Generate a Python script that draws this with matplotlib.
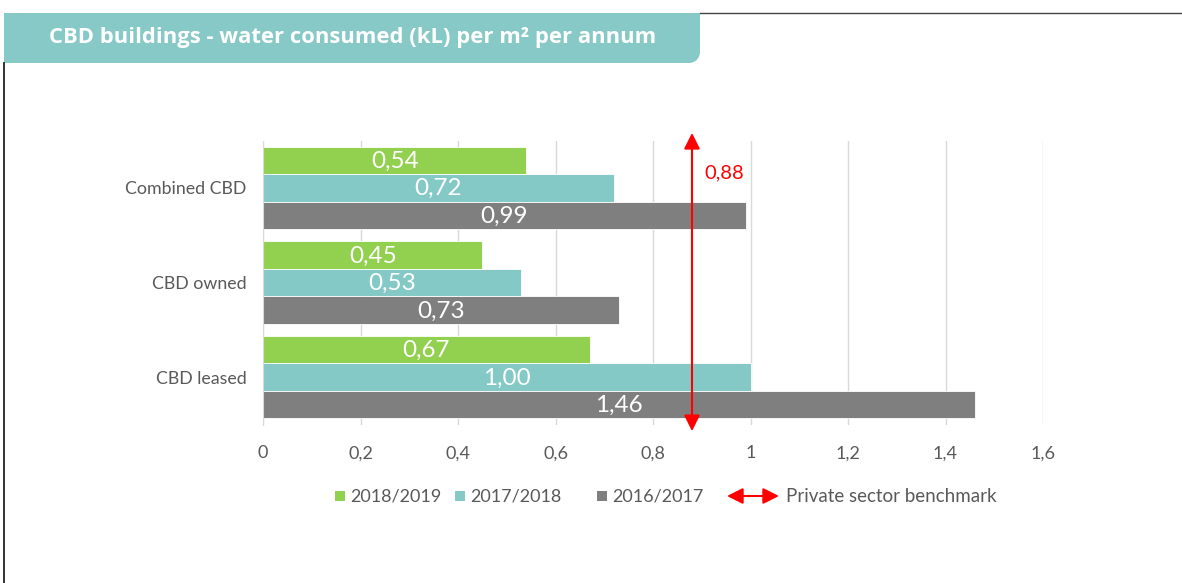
import numpy as np
import matplotlib
matplotlib.use('Agg')
import matplotlib.pyplot as plt
from matplotlib.patches import Polygon, Rectangle, FancyArrowPatch

# data
categories = ['CBD leased', 'CBD owned', 'Combined CBD']  # bottom to top
series_names = ['2018/2019', '2017/2018', '2016/2017']
v_1819 = [0.67, 0.45, 0.54]
v_1718 = [1.00, 0.53, 0.72]
v_1617 = [1.46, 0.73, 0.99]
benchmark = 0.88
benchmark_label = 'Private sector benchmark'
xticks = [0, 0.2, 0.4, 0.6, 0.8, 1.0, 1.2, 1.4, 1.6]

colors = ['#92D050', '#85C9C7', '#7F7F7F']
txt_grey = '#595959'
font = 'Lato'


def comma(v, fmt='{:.2f}'):
    return fmt.format(v).replace('.', ',')


W, H = 1182, 583
fig = plt.figure(figsize=(W / 100, H / 100), dpi=100)

# background layer in pixel coords (frame + title tab)
bg = fig.add_axes([0, 0, 1, 1], zorder=0)
bg.set_xlim(0, W)
bg.set_ylim(H, 0)
bg.axis('off')

r = 11
arc = [(700 - r + r * np.cos(t), 63 - r + r * np.sin(t)) for t in np.linspace(0, np.pi / 2, 12)]
tab = [(4, 13), (700, 13)] + arc + [(4, 63)]
bg.add_patch(Polygon(tab, closed=True, facecolor='#86C9C6', edgecolor='none'))
bg.plot([4, 4], [63, H], color='#222222', lw=1.3)
bg.plot([700, W], [13, 13], color='#444444', lw=1.0)
bg.text(353, 38, 'CBD buildings - water consumed (kL) per m² per annum',
        color='white', fontsize=15.8, fontweight='bold', family='Open Sans',
        ha='center', va='center')

# main chart
ax = fig.add_axes([263 / W, 1 - 424.5 / H, 780 / W, 284 / H], zorder=1)
ax.patch.set_alpha(0)
y = np.arange(len(categories))
bh = 0.29
offsets = [bh, 0, -bh]
for vals, off, c in zip([v_1819, v_1718, v_1617], offsets, colors):
    bars = ax.barh(y + off, vals, height=bh, color=c, edgecolor='white', linewidth=0.6, zorder=2)
    for b, v in zip(bars, vals):
        ax.text(v / 2, b.get_y() + b.get_height() / 2 - 0.01, comma(v), color='white',
                fontsize=17.5, family=font, ha='center', va='center', zorder=3)

ax.set_xlim(0, 1.6)
ax.set_ylim(-0.5, len(categories) - 0.5)
ax.set_xticks(xticks)
ax.set_xticklabels(['0' if t == 0 else comma(t, '{:g}') for t in xticks],
                   fontsize=13, color=txt_grey, family=font)
ax.set_yticks(y)
ax.set_yticklabels(categories, fontsize=12.8, color=txt_grey, family=font)
ax.tick_params(axis='y', length=0, pad=12)
ax.tick_params(axis='x', length=0, pad=15)
ax.grid(axis='x', color='#D9D9D9', lw=1, zorder=0)
for s in ['top', 'right', 'bottom']:
    ax.spines[s].set_visible(False)
ax.spines['left'].set_color('#D9D9D9')

# benchmark double arrow
ax.annotate('', xy=(benchmark, 2.58), xytext=(benchmark, -0.57),
            arrowprops=dict(arrowstyle='<|-|>,head_length=0.8,head_width=0.4',
                            color='red', lw=1.5, mutation_scale=12, shrinkA=0, shrinkB=0),
            annotation_clip=False, zorder=4)
ax.text(benchmark + 0.025, 2.158, comma(benchmark), color='red', fontsize=14.5,
        family=font, ha='left', va='center')

# legend (drawn in pixel coords)
ly = 496
items = [(335, series_names[0], colors[0]), (455, series_names[1], colors[1]),
         (597, series_names[2], colors[2])]
for lx, name, c in items:
    bg.add_patch(Rectangle((lx, ly - 5), 10, 10, facecolor=c, edgecolor='none'))
    bg.text(lx + 15, ly, name, fontsize=13, color=txt_grey, family=font, va='center')
bg.add_patch(FancyArrowPatch((727, ly), (779, ly), arrowstyle='<|-|>,head_length=0.8,head_width=0.4',
                             color='red', lw=1.5, mutation_scale=12, shrinkA=0, shrinkB=0))
bg.text(786, ly, benchmark_label, fontsize=13.5, color=txt_grey, family=font, va='center')

fig.savefig('out.png', dpi=100)
